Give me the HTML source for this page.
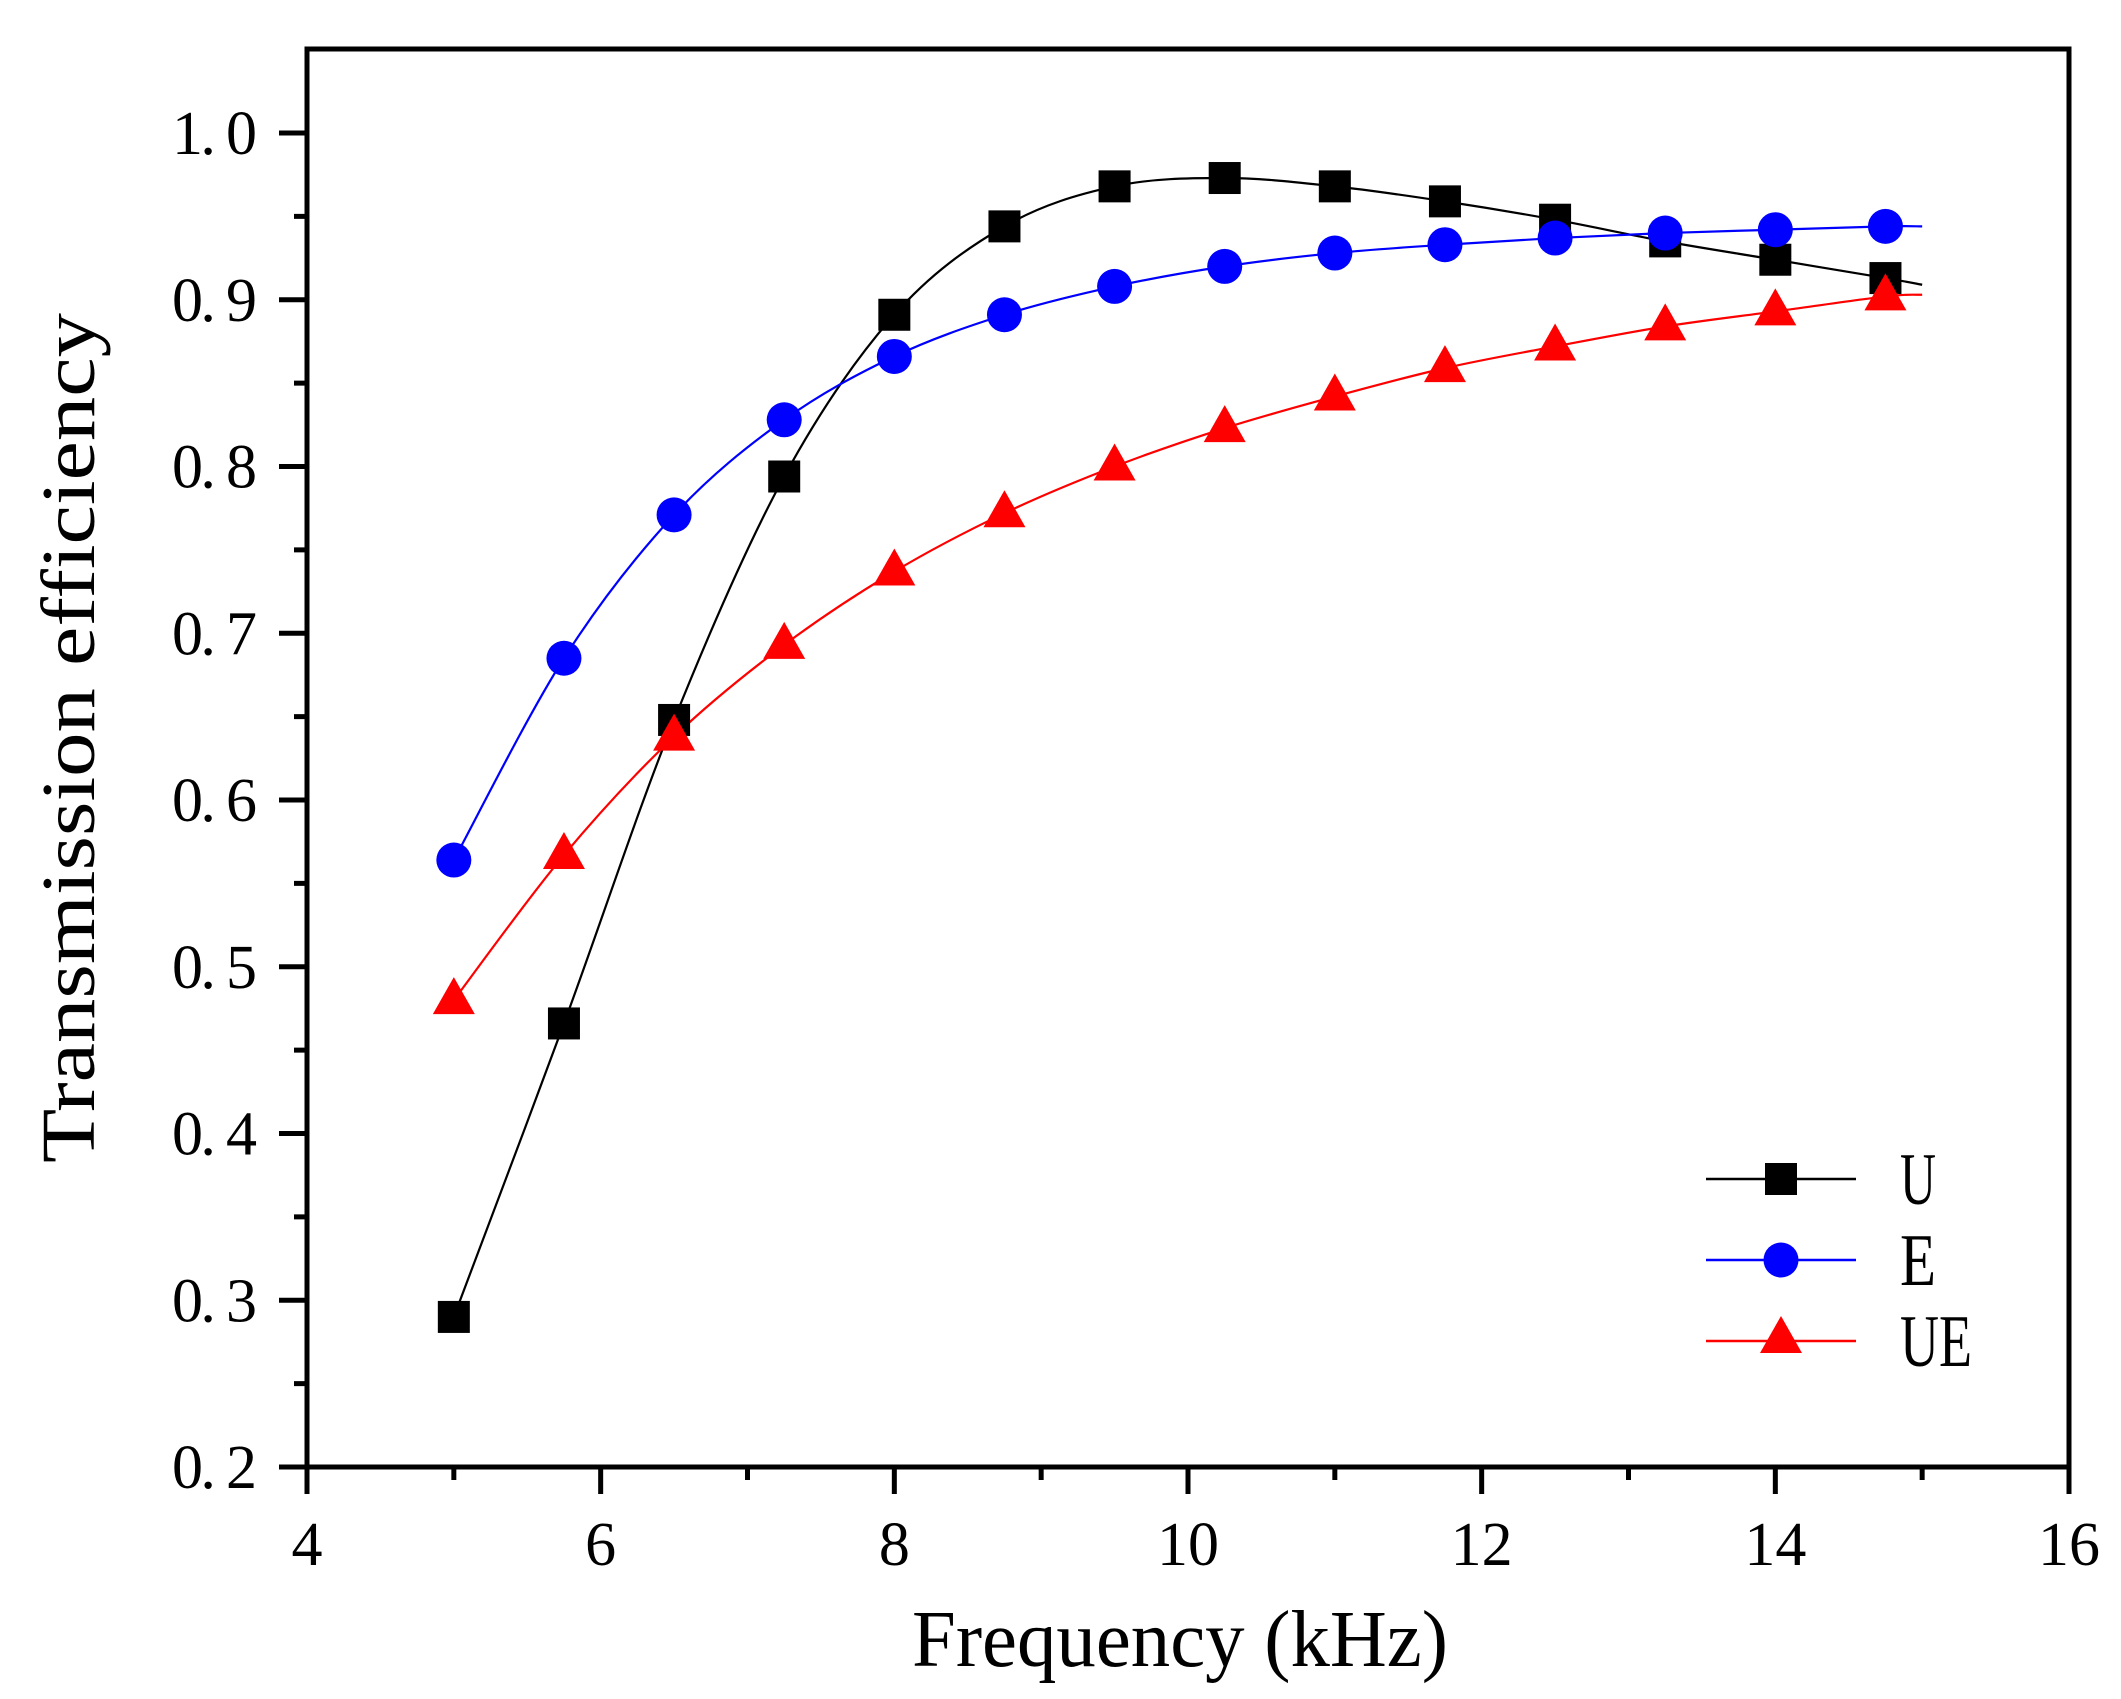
<!DOCTYPE html>
<html><head><meta charset="utf-8"><style>
html,body{margin:0;padding:0;background:#fff;}
svg{display:block;}
text{font-family:"Liberation Serif",serif;fill:#000;}
</style></head><body>
<svg id="chart" width="2121" height="1699" viewBox="0 0 2121 1699" xmlns="http://www.w3.org/2000/svg">
<rect width="2121" height="1699" fill="#fff"/>
<g id="series"></g>
<g id="axes"></g>
<text x="1180" y="1666" font-size="80" text-anchor="middle" textLength="536" lengthAdjust="spacingAndGlyphs">Frequency (kHz)</text>
<text transform="translate(94,738) rotate(-90)" font-size="76" text-anchor="middle" textLength="850" lengthAdjust="spacingAndGlyphs">Transmission efficiency</text>
<g id="legend"></g>
</svg>
<script>
const freqs = [5,5.75,6.5,7.25,8,8.75,9.5,10.25,11,11.75,12.5,13.25,14,14.75];
const uVals = [0.29,0.466,0.648,0.794,0.891,0.944,0.968,0.973,0.968,0.959,0.948,0.935,0.924,0.913];
const eVals = [0.564,0.685,0.771,0.828,0.866,0.891,0.908,0.920,0.928,0.933,0.937,0.940,0.942,0.944];
const ueVals = [0.48,0.567,0.638,0.693,0.737,0.772,0.800,0.823,0.842,0.859,0.872,0.884,0.893,0.902];
const lineEndX = 15;
const lineEndVals = [0.909,0.944,0.903];
const seriesNames = ["U","E","UE"];
const xTicks = [4,6,8,10,12,14,16];
const yTicks = [0.2,0.3,0.4,0.5,0.6,0.7,0.8,0.9,1.0];
const yTickLabels = ["0. 2","0. 3","0. 4","0. 5","0. 6","0. 7","0. 8","0. 9","1. 0"];

const NS="http://www.w3.org/2000/svg";
const L=307,R=2069,T=49,B=1467;
const xMin=4,xMax=16,yMin=0.2;
const yTop=1.0, yTopPx=133;
function xs(v){return L+(v-xMin)*(R-L)/(xMax-xMin);}
function ys(v){return B-(v-yMin)*(B-yTopPx)/(yTop-yMin);}
function mk(tag,attrs,parent){const e=document.createElementNS(NS,tag);for(const k in attrs)e.setAttribute(k,attrs[k]);parent.appendChild(e);return e;}

const axes=document.getElementById('axes');
const frame=mk('rect',{x:L,y:T,width:R-L,height:B-T,fill:'none',stroke:'#000','stroke-width':5},axes);


xTicks.forEach((t,i)=>{
  const x=xs(t);
  const tk=mk('line',{x1:x,y1:B,x2:x,y2:B+27,stroke:'#000','stroke-width':5},axes);
  
  
  if(i<xTicks.length-1){
    const m=xs(t+1);
    const mt=mk('line',{x1:m,y1:B,x2:m,y2:B+13,stroke:'#000','stroke-width':5},axes);
    
    
  }
  const lb=mk('text',{x:x,y:1565,'font-size':62,'text-anchor':'middle'},axes);
  lb.textContent=String(t);
  
  
});
yTicks.forEach((t,i)=>{
  const y=ys(t);
  const tk=mk('line',{x1:L,y1:y,x2:L-28,y2:y,stroke:'#000','stroke-width':5},axes);
  
  
  if(i<yTicks.length-1){
    const m=ys(t+0.05);
    const mt=mk('line',{x1:L,y1:m,x2:L-13,y2:m,stroke:'#000','stroke-width':5},axes);
    
    
  }
  const lb=mk('text',{x:257,y:y+21,'font-size':62,'text-anchor':'end',textLength:85,lengthAdjust:'spacing'},axes);
  lb.textContent=yTickLabels[i];
  
  
});

function curvePath(px){
  let d='M'+px[0][0]+','+px[0][1];
  for(let i=0;i<px.length-1;i++){
    const p0=px[Math.max(0,i-1)],p1=px[i],p2=px[i+1],p3=px[Math.min(px.length-1,i+2)];
    const c1x=p1[0]+(p2[0]-p0[0])/6,c1y=p1[1]+(p2[1]-p0[1])/6;
    const c2x=p2[0]-(p3[0]-p1[0])/6,c2y=p2[1]-(p3[1]-p1[1])/6;
    d+=' C'+c1x+','+c1y+' '+c2x+','+c2y+' '+p2[0]+','+p2[1];
  }
  return d;
}
function marker(kind,cx,cy,color,parent){
  let e;
  if(kind==='square') e=mk('rect',{x:cx-16,y:cy-16,width:32,height:32,fill:color},parent);
  else if(kind==='circle') e=mk('circle',{cx:cx,cy:cy,r:17.5,fill:color},parent);
  else e=mk('polygon',{points:(cx-21)+','+(cy+14)+' '+(cx+21)+','+(cy+14)+' '+cx+','+(cy-23),fill:color},parent);
  return e;
}
const ser=document.getElementById('series');
const allVals=[uVals,eVals,ueVals];
const colors=['#000','#0000ff','#ff0000'];
const kinds=['square','circle','triangle'];
allVals.forEach((vals,si)=>{
  const pts=freqs.map((f,i)=>[xs(f),ys(vals[i])]);
  pts.push([xs(lineEndX),ys(lineEndVals[si])]);
  const p=mk('path',{d:curvePath(pts),fill:'none',stroke:colors[si],'stroke-width':2.2},ser);
  
  
});
allVals.forEach((vals,si)=>{
  freqs.forEach((f,i)=>{
    const m=marker(kinds[si],xs(f),ys(vals[i]),colors[si],ser);
    
    
  });
});
const lg=document.getElementById('legend');
const rowsY=[1179,1260,1341];
seriesNames.forEach((n,i)=>{
  const ln=mk('line',{x1:1706,y1:rowsY[i],x2:1856,y2:rowsY[i],stroke:colors[i],'stroke-width':2.5},lg);
  
  
  const m=marker(kinds[i],1781,kinds[i]==='triangle'?rowsY[i]-2:rowsY[i],colors[i],lg);
  
  
  const t=mk('text',{x:1900,y:rowsY[i]+25,'font-size':74,textLength:(n.length*36),lengthAdjust:'spacingAndGlyphs'},lg);
  t.textContent=n;
  
  
});
</script>
</body></html>
